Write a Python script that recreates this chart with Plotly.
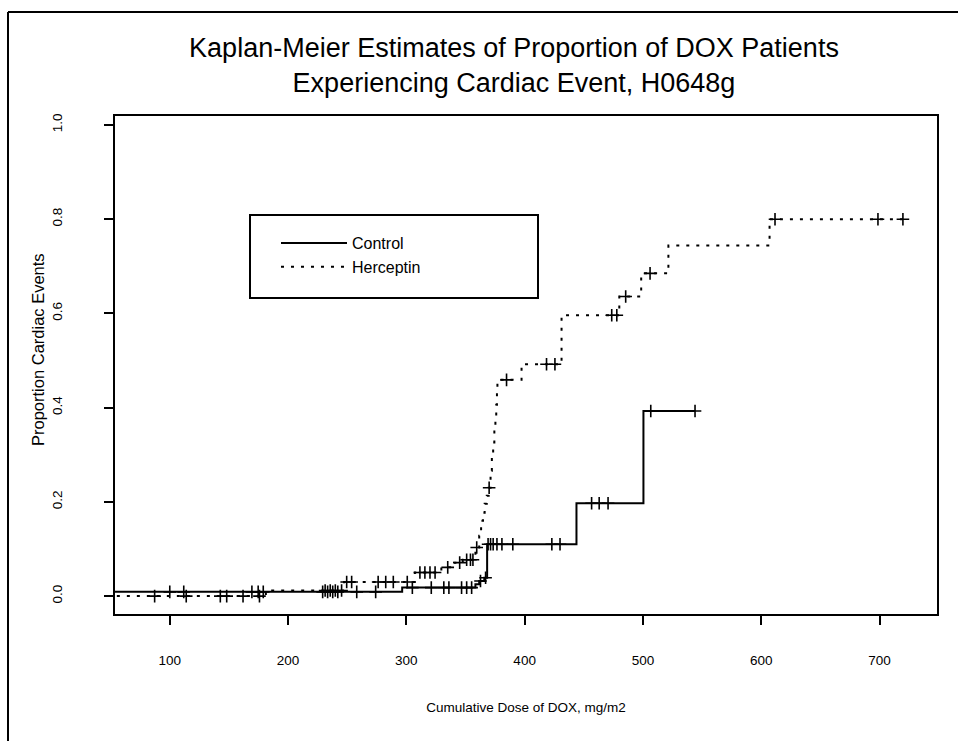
import numpy as np
import plotly.graph_objects as go

# ---------------- data ----------------
# Kaplan-Meier step curves: dose at which the curve steps, level after the step
control_dose = [30, 296.5, 358.4, 361.6, 365.9, 368.3, 443.8, 500.4]
control_prop = [0.009, 0.018, 0.025, 0.032, 0.039, 0.110, 0.197, 0.393]
control_last = 544
control_censor = [100.1, 111.9, 169.5, 174.8, 179.1, 229.3, 233.5, 237.8,
                  242.1, 258.1, 274.1,
                  305.1, 321.1, 331.7, 336, 346.7, 351, 355.2, 362.7, 367,
                  369.1, 371.2, 373.4, 376.6, 380.8, 390, 423, 429.9,
                  456.6, 463, 470.5, 506.6, 544]

herceptin_dose = [30, 181.3, 247.4, 307.2, 329.6, 340.3, 347.7, 358.4, 361.6,
                  363.2, 364.8, 366.2, 368.0, 369.6, 371.2, 372.3, 373.4,
                  374.4, 375.3, 376.0, 376.6, 377.0, 397.4, 431.2, 480.0,
                  498.5, 521.5, 607]
herceptin_prop = [0.0, 0.012, 0.030, 0.050, 0.061, 0.071, 0.077, 0.103, 0.128,
                  0.160, 0.177, 0.196, 0.213, 0.230, 0.266, 0.295, 0.326,
                  0.354, 0.379, 0.406, 0.433, 0.459, 0.492, 0.596, 0.636,
                  0.685, 0.744, 0.800]
herceptin_last = 720
herceptin_censor = [87.3, 114.0, 142.8, 148.2, 162.0, 175.9,
                    231.4, 235.7, 240.0, 245.3,
                    249.6, 253.8, 276.2, 282.6, 289.0, 300.8,
                    311.5, 315.7, 320.0, 324.3, 335.0, 345.1, 351.0, 354.2,
                    356.3, 359.5, 370.0, 384.7, 418.5, 425.6, 473.6, 477.9,
                    485.4, 506.0, 611.6, 698.6, 719.7]

x_ticks = [100, 200, 300, 400, 500, 600, 700]
y_ticks = [0.0, 0.2, 0.4, 0.6, 0.8, 1.0]
y_tick_text = ["0.0", "0.2", "0.4", "0.6", "0.8", "1.0"]

title_text = ("Kaplan-Meier Estimates of Proportion of DOX Patients<br>"
              "Experiencing Cardiac Event, H0648g")
x_title = "Cumulative Dose of DOX, mg/m2"
y_title = "Proportion Cardiac Events"


def step_line(t, s, last):
    return list(t) + [last], list(s) + [s[-1]]


def level_at(t, s, c):
    idx = np.searchsorted(np.asarray(t), np.asarray(c), side="right") - 1
    return np.asarray(s)[idx]


# ---------------- geometry ----------------
W, H = 958, 741
L, R, T, B = 115, 21, 116, 127
PW, PH = W - L - R, H - T - B


def px_x(px):
    return (px - L) / PW


def px_y(py):
    return (T + PH - py) / PH


FONT = "Liberation Sans, Arial, sans-serif"

fig = go.Figure()

cx, cy = step_line(control_dose, control_prop, control_last)
hx, hy = step_line(herceptin_dose, herceptin_prop, herceptin_last)

fig.add_trace(go.Scatter(x=cx, y=cy, mode="lines", name="Control",
                         line=dict(color="black", width=2, shape="hv")))
fig.add_trace(go.Scatter(x=hx, y=hy, mode="lines", name="Herceptin",
                         line=dict(color="black", width=2, shape="hv",
                                   dash="3px,7px")))
fig.add_trace(go.Scatter(x=control_censor,
                         y=level_at(control_dose, control_prop, control_censor),
                         mode="markers", showlegend=False,
                         marker=dict(symbol="cross-thin", size=9,
                                     line=dict(color="black", width=1.6))))
fig.add_trace(go.Scatter(x=herceptin_censor,
                         y=level_at(herceptin_dose, herceptin_prop, herceptin_censor),
                         mode="markers", showlegend=False,
                         marker=dict(symbol="cross-thin", size=9,
                                     line=dict(color="black", width=1.6))))

shapes = [
    # legend box
    dict(type="rect", xref="paper", yref="paper",
         x0=px_x(250), x1=px_x(538), y0=px_y(298), y1=px_y(215),
         line=dict(color="black", width=2), fillcolor="rgba(0,0,0,0)"),
    # outer page frame (left and top)
    dict(type="line", xref="paper", yref="paper",
         x0=px_x(8), x1=px_x(8), y0=px_y(741), y1=px_y(12),
         line=dict(color="black", width=2)),
    dict(type="line", xref="paper", yref="paper",
         x0=px_x(8), x1=px_x(958), y0=px_y(12), y1=px_y(12),
         line=dict(color="black", width=2)),
]

annotations = [
    dict(text=y_title, textangle=-90, xref="paper", yref="paper",
         x=px_x(38), y=px_y(350), xanchor="center", yanchor="middle",
         showarrow=False, font=dict(size=16.5, family=FONT, color="black")),
]

fig.update_layout(
    width=W, height=H,
    margin=dict(l=L, r=R, t=T, b=B, autoexpand=False),
    paper_bgcolor="white", plot_bgcolor="white",
    font=dict(family=FONT, color="black"),
    title=dict(text=title_text, x=px_x(514), xref="paper", xanchor="center",
               y=1 - 57 / H, yref="container", yanchor="top",
               font=dict(size=27, family=FONT, color="black")),
    xaxis=dict(range=[53.8, 748.5], tickvals=x_ticks, ticks="outside",
               ticklen=9, tickwidth=2, tickcolor="black",
               showline=True, linecolor="black", linewidth=2, mirror=True,
               showgrid=False, zeroline=False, ticklabelstandoff=24,
               tickfont=dict(size=13.5),
               title=dict(text=x_title, standoff=35, font=dict(size=13.5))),
    yaxis=dict(range=[-0.038, 1.019], tickvals=y_ticks, ticktext=y_tick_text,
               tickangle=-90, ticks="outside", ticklen=9, tickwidth=2,
               tickcolor="black", showline=True, linecolor="black",
               linewidth=2, mirror=True, showgrid=False, zeroline=False,
               ticklabelstandoff=37, tickfont=dict(size=13.5)),
    legend=dict(x=px_x(276), y=px_y(226), xanchor="left", yanchor="top",
                bgcolor="rgba(0,0,0,0)", borderwidth=0, itemwidth=66,
                font=dict(size=16), tracegroupgap=0),
    shapes=shapes,
    annotations=annotations,
    showlegend=True,
)

fig.write_html("out.html")
